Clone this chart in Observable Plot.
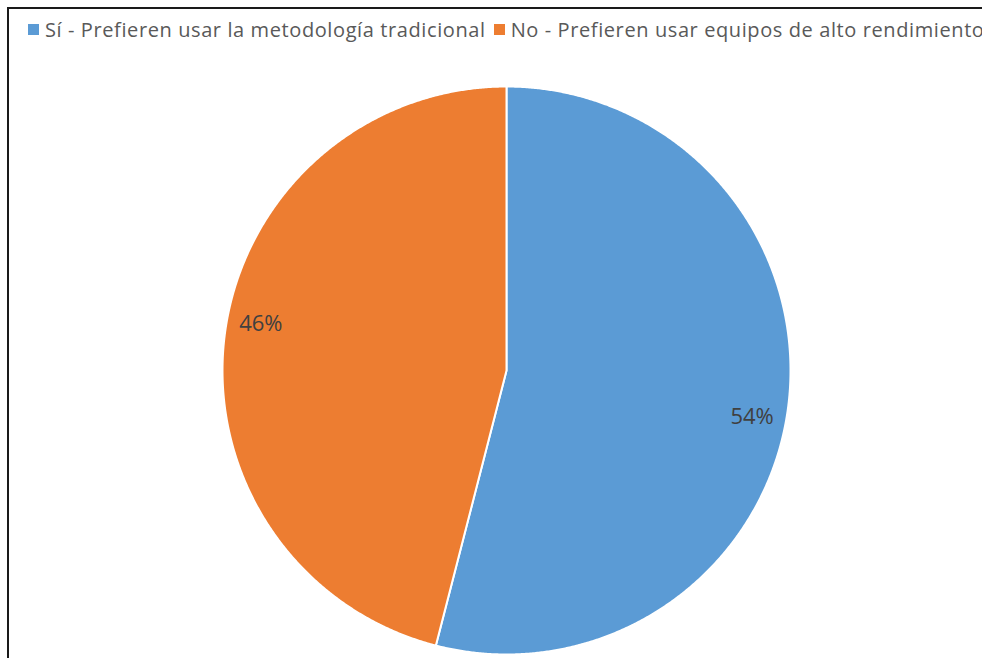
<!DOCTYPE html>
<html>
<head>
<meta charset="utf-8">
<script src="https://cdn.jsdelivr.net/npm/d3@7"></script>
<script src="https://cdn.jsdelivr.net/npm/@observablehq/plot@0.6"></script>
<style>
  html, body { margin: 0; padding: 0; background: #fff; }
  #wrap { position: relative; width: 982px; height: 658px; overflow: hidden; background: #fff; }
  #frame { position: absolute; left: 7px; top: 7px; width: 1000px; height: 700px; border-top: 2px solid #1a1a1a; border-left: 2px solid #1a1a1a; pointer-events: none; }
  #chart { position: absolute; left: 0; top: 0; }
  #legend { position: absolute; left: 28px; top: 16px; white-space: nowrap; font-family: "Open Sans", sans-serif; font-size: 20px; letter-spacing: 0.6px; color: #595959; display: flex; align-items: center; }
  .item { display: flex; align-items: center; margin-right: 8px; }
  .sw { width: 11px; height: 11px; margin-right: 6px; display: inline-block; }
</style>
</head>
<body>
<div id="wrap">
  <div id="chart"></div>
  <div id="legend"></div>
  <div id="frame"></div>
</div>
<script>
const categories = ["Sí - Prefieren usar la metodología tradicional", "No - Prefieren usar equipos de alto rendimiento"];
const values = [54, 46];
const valueLabels = ["54%", "46%"];
const colors = ["#5B9BD5", "#ED7D31"];

const arcs = d3.pie().sort(null).value(d => d.value)(categories.map((c, i) => ({category: c, value: values[i], label: valueLabels[i]})));

const pts = [];
for (const a of arcs) {
  pts.push({category: a.data.category, x: 0, y: 0});
  const n = Math.max(2, Math.ceil((a.endAngle - a.startAngle) / 0.005));
  for (let k = 0; k <= n; k++) {
    const t = a.startAngle + (a.endAngle - a.startAngle) * k / n;
    pts.push({category: a.data.category, x: Math.sin(t), y: Math.cos(t)});
  }
}
const labelPts = arcs.map(a => {
  const m = (a.startAngle + a.endAngle) / 2 + 0.06;
  return {label: a.data.label, x: 0.88 * Math.sin(m), y: 0.88 * Math.cos(m)};
});

const chart = Plot.plot({
  width: 982, height: 658,
  marginLeft: 222, marginRight: 192, marginTop: 86, marginBottom: 4,
  x: {axis: null, domain: [-1, 1]},
  y: {axis: null, domain: [-1, 1]},
  color: {domain: categories, range: colors},
  style: {background: "transparent"},
  marks: [
    Plot.line(pts, {x: "x", y: "y", z: "category", fill: "category", stroke: "#fff", strokeWidth: 2, curve: "linear-closed"}),
    Plot.text(labelPts, {x: "x", y: "y", text: "label", fill: "#404040", fontSize: 22, fontFamily: "Open Sans, sans-serif"})
  ]
});
document.getElementById("chart").appendChild(chart);

const legend = document.getElementById("legend");
categories.forEach((c, i) => {
  const it = document.createElement("span");
  it.className = "item";
  const sw = document.createElement("span");
  sw.className = "sw";
  sw.style.background = colors[i];
  it.appendChild(sw);
  it.appendChild(document.createTextNode(c));
  legend.appendChild(it);
});
</script>
</body>
</html>
